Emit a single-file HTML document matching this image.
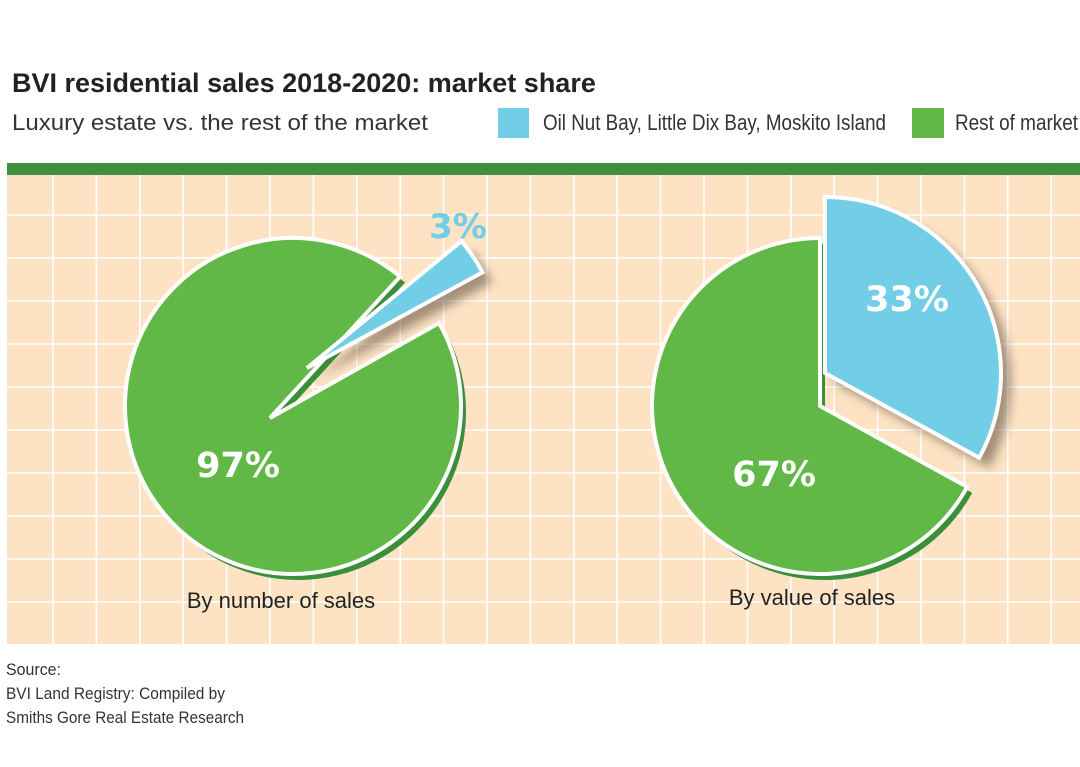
<!DOCTYPE html>
<html><head><meta charset="utf-8">
<style>
html,body{margin:0;padding:0;background:#fff;}
svg{display:block;}
text{font-family:"Liberation Sans",sans-serif;}
text.pct{font-family:"DejaVu Sans",sans-serif;font-weight:bold;}
</style></head>
<body>
<svg id="chart" width="1080" height="767" viewBox="0 0 1080 767">
<defs>
<filter id="sh" x="-30%" y="-30%" width="160%" height="160%"><feGaussianBlur stdDeviation="5"/></filter>
</defs>
<text x="12" y="92" font-size="27" font-weight="bold" fill="#222">BVI residential sales 2018-2020: market share</text>
<text x="12" y="130" font-size="22" fill="#333" textLength="416" lengthAdjust="spacingAndGlyphs">Luxury estate vs. the rest of the market</text>
<g>
<rect x="498" y="108" width="31" height="30" fill="#72cde6"/>
<text x="543" y="130" font-size="22" fill="#333" textLength="343" lengthAdjust="spacingAndGlyphs">Oil Nut Bay, Little Dix Bay, Moskito Island</text>
<rect x="912" y="108" width="32" height="30" fill="#62b846"/>
<text x="955" y="130" font-size="22" fill="#333" textLength="123" lengthAdjust="spacingAndGlyphs">Rest of market</text>
</g>
<rect x="7" y="163" width="1073" height="12" fill="#3f8f3f"/>
<rect x="7" y="175" width="1073" height="469" fill="#fde3c4"/>
<g id="grid"></g>
<g id="pies"></g>
<text x="281" y="608" font-size="22" fill="#222" text-anchor="middle">By number of sales</text>
<text x="812" y="605" font-size="22" fill="#222" text-anchor="middle">By value of sales</text>
<g>
<text x="6" y="675" font-size="17" fill="#333" textLength="55" lengthAdjust="spacingAndGlyphs">Source:</text>
<text x="6" y="699" font-size="17" fill="#333" textLength="219" lengthAdjust="spacingAndGlyphs">BVI Land Registry: Compiled by</text>
<text x="6" y="723" font-size="17" fill="#333" textLength="238" lengthAdjust="spacingAndGlyphs">Smiths Gore Real Estate Research</text>
</g>
</svg>
<script>
const categories = ["Oil Nut Bay, Little Dix Bay, Moskito Island", "Rest of market"];
const byNumber = [3, 97];
const byValue = [33, 67];
const valueLabels = [["3%","97%"],["33%","67%"]];

const NS="http://www.w3.org/2000/svg";
function mk(tag, attrs, parent){const e=document.createElementNS(NS,tag);for(const k in attrs)e.setAttribute(k,attrs[k]);parent.appendChild(e);return e;}

const grid=document.getElementById('grid');
for(let x=53;x<1080;x+=43.4){const l=mk('line',{x1:x,y1:175,x2:x,y2:644,stroke:'#fff','stroke-width':1.6},grid);

}
for(let y=215;y<644;y+=43){const l=mk('line',{x1:7,y1:y,x2:1080,y2:y,stroke:'#fff','stroke-width':1.6},grid);

}

function angleOf(v,total){return v/total*360;}
function pt(cx,cy,r,deg){const a=deg*Math.PI/180;return [cx+r*Math.cos(a),cy-r*Math.sin(a)];}
function wedge(cx,cy,r,a0,a1){
  const p0=pt(cx,cy,r,a0),p1=pt(cx,cy,r,a1);const large=(a1-a0)>180?1:0;
  return `M${cx},${cy}L${p0[0]},${p0[1]}A${r},${r} 0 ${large} 0 ${p1[0]},${p1[1]}Z`;}
function wedgeApex(cx,cy,r,a0,a1,ax,ay){
  const p0=pt(cx,cy,r,a0),p1=pt(cx,cy,r,a1);const large=(a1-a0)>180?1:0;
  return `M${ax},${ay}L${p0[0]},${p0[1]}A${r},${r} 0 ${large} 0 ${p1[0]},${p1[1]}Z`;}

const pies=document.getElementById('pies');
const cfg=[
 {data:byNumber,name:'pie-by-number',cx:293,cy:406,r:168,mid:40,bShift:-6,
  ex:[14,-38],bR:200,gApex:[-23,12],gPad:5,lab:[[458,238,34,'#72cde6'],[238,477,35,'#fff']]},
 {data:byValue,name:'pie-by-value',cx:820,cy:406,r:168,mid:null,bShift:0,
  ex:[5,-33],bR:176,gApex:[0,0],gPad:0,lab:[[907,311,35,'#fff'],[774,486,35,'#fff']]}
];
cfg.forEach((c,i)=>{
  const tot=c.data[0]+c.data[1];
  const span=angleOf(c.data[0],tot);
  let b0,b1;
  if(c.mid===null){b1=90;b0=90-span;} else {b0=c.mid-span/2;b1=c.mid+span/2;}
  const g=mk('g',{},pies);
  
  
  const gx=c.cx+c.gApex[0],gy=c.cy+c.gApex[1];
  const gd=wedgeApex(c.cx,c.cy,c.r,b1+c.gPad,b0-c.gPad+360,gx,gy);
  const s1=mk('path',{d:gd,fill:'#3a8f3a',transform:'translate(5,6)'},g);
  
  
  const gs=mk('path',{d:gd,fill:'#62b846',stroke:'#fff','stroke-width':4,'stroke-linejoin':'miter'},g);
  
  
  const bx=c.cx+c.ex[0],by=c.cy+c.ex[1];
  const bd=wedge(bx,by,c.bR,b0+c.bShift,b1+c.bShift);
  const s2=mk('path',{d:bd,fill:'#5a4a3a',opacity:0.55,filter:'url(#sh)',transform:'translate(10,10)'},g);
  
  
  const bs=mk('path',{d:bd,fill:'#72cde6',stroke:'#fff','stroke-width':4,'stroke-linejoin':'miter'},g);
  
  
  c.lab.forEach((L,j)=>{
    const t=mk('text',{x:L[0],y:L[1],'font-size':L[2],fill:L[3],'text-anchor':'middle','class':'pct'},g);
    t.textContent=valueLabels[i][j];
    
    
  });
});
</script>
</body></html>
